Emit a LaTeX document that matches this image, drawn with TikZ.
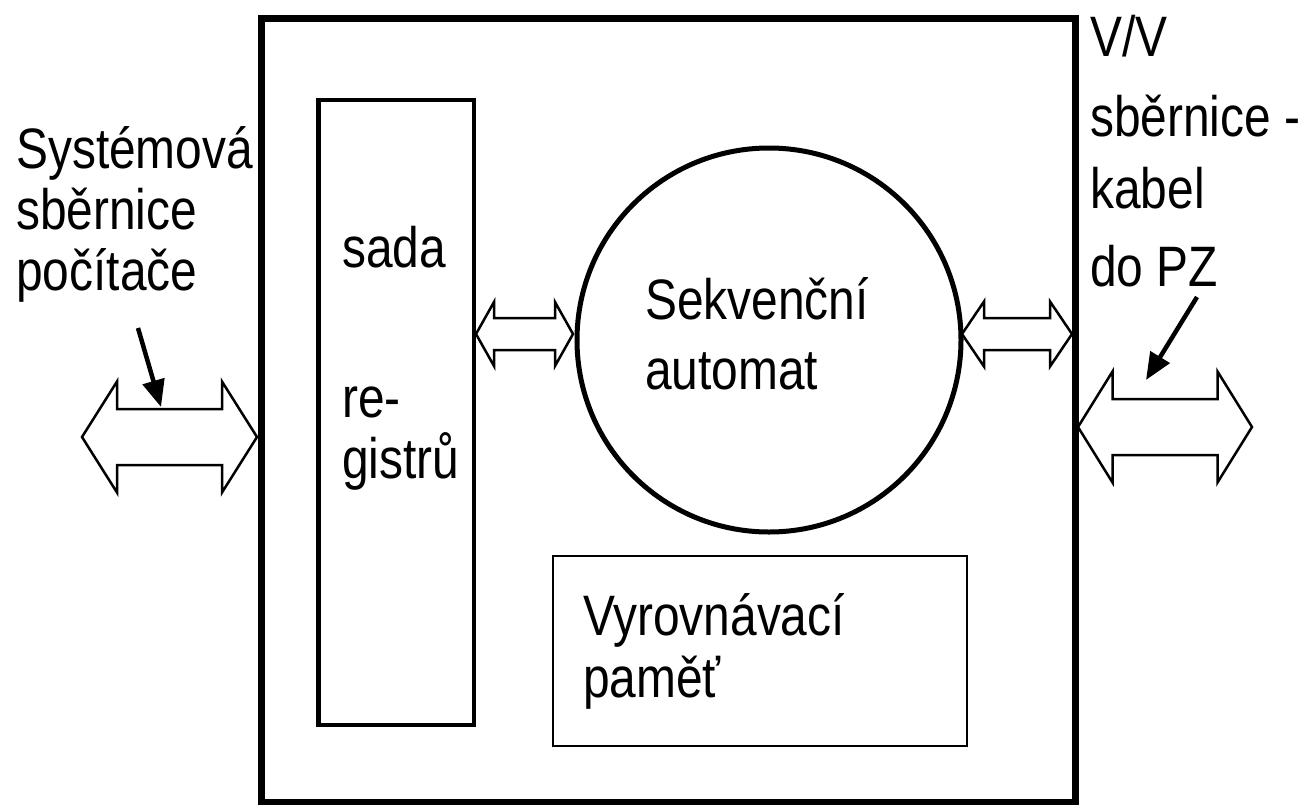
\documentclass[tikz,border=0pt]{standalone}
\usepackage{fontspec}
\setmainfont{Liberation Sans}[FakeStretch=0.84]
\usetikzlibrary{arrows.meta}
\newcommand\DblArrowPath[6]{%
  (#1,#3) -- ++(#4,-#5) -- ++(0,{#5-#6}) -- ({#2-#4},{#3-#6}) -- ++(0,{#6-#5})
  -- (#2,#3) -- ({#2-#4},{#3+#5}) -- ++(0,{#6-#5}) -- ({#1+#4},{#3+#6})
  -- ++(0,{#5-#6}) -- cycle}
\tikzset{
  lbl/.style={anchor=base west, inner sep=0pt, font=\fontsize{57}{68}\selectfont},
  dbl/.style={draw=black, line width=2.5pt, line join=miter, fill=white},
  pointer/.style={line width=4.5pt, -{Triangle[length=27pt,width=22pt]}},
}
\begin{document}
\begin{tikzpicture}[x=1pt,y=-1pt]
\useasboundingbox (0,0) rectangle (1315,804);
% main boxes
\node[draw, line width=7pt, minimum width=813.5pt, minimum height=784pt, inner sep=0pt] (outer) at (668.25,410) {};
\node[draw, line width=4.5pt, minimum width=155.5pt, minimum height=625pt, inner sep=0pt] (reg) at (396.25,412.5) {};
\node[draw, circle, line width=5pt, minimum size=384pt, inner sep=0pt] (aut) at (769,340) {};
\node[draw, line width=2.5pt, minimum width=414pt, minimum height=190pt, inner sep=0pt] (cache) at (760,651) {};
% double arrows
\draw[dbl] \DblArrowPath{82}{257}{437}{35}{55.5}{28};
\draw[dbl] \DblArrowPath{476}{573}{334}{18}{32}{16};
\draw[dbl] \DblArrowPath{962}{1072}{334}{22}{32.5}{16};
\draw[dbl] \DblArrowPath{1078}{1252}{427}{34.5}{55.5}{28};
\coordinate (la) at (161,407);
\coordinate (ra) at (1146,380);
% labels
\node[lbl] (t1) at (16,168) {Systémová};
\node[lbl] (t2) at (16,229) {sběrnice};
\node[lbl] (t3) at (16,290) {počítače};
\node[lbl] (r1) at (1090,56) {V/V};
\node[lbl] (r2) at (1090,136) {sběrnice -};
\node[lbl] (r3) at (1090,208) {kabel};
\node[lbl] (r4) at (1090,286) {do PZ};
\node[lbl] (s1) at (342,267) {sada};
\node[lbl] (s2) at (342,417) {re-};
\node[lbl] (s3) at (342,478) {gistrů};
\node[lbl] (a1) at (645,319) {Sekvenční};
\node[lbl] (a2) at (645,389) {automat};
\node[lbl] (v1) at (583,635) {Vyrovnávací};
\node[lbl] (v2) at (583,697) {paměť};
% pointers
\coordinate (lp) at (138,328);
\coordinate (rp) at (1197,297);
\draw[pointer] (lp) -- (la);
\draw[pointer] (rp) -- (ra);
\end{tikzpicture}
\end{document}
